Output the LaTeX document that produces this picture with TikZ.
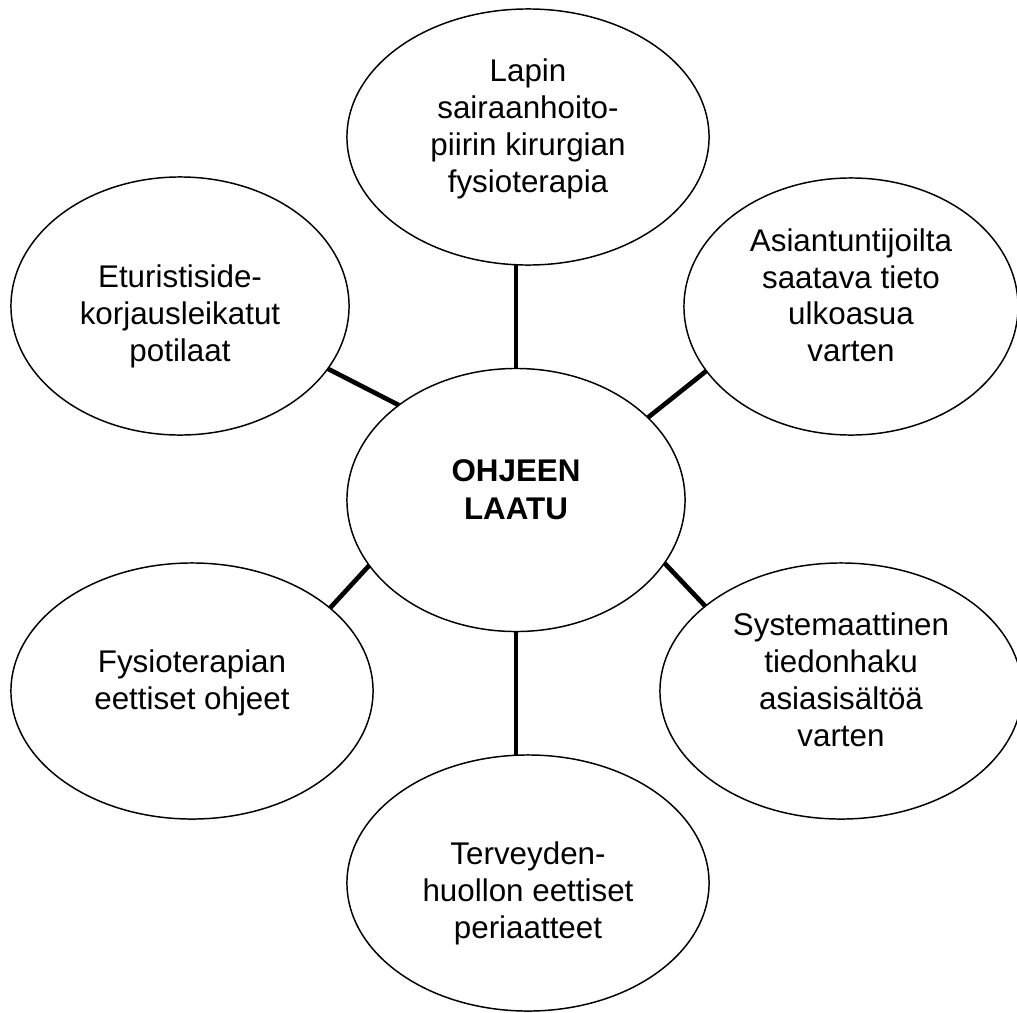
\documentclass[tikz,border=0pt]{standalone}
\usepackage{fontspec}
\setmainfont{Liberation Sans}
\usetikzlibrary{shapes.geometric}
% line strut: height 0.58cm, depth 0.335cm; last-line strut: equal height and depth
\newcommand\ls{\rule[-0.335cm]{0pt}{0.915cm}}
\newcommand\lz{\rule[-0.58cm]{0pt}{1.16cm}}
\begin{document}
\begin{tikzpicture}[x=0.025cm,y=-0.025cm,
  bubble/.style={ellipse,draw=black,line width=1.05pt,inner sep=0pt,outer sep=0pt,
    align=center,font=\fontsize{22.3}{0.92cm}\selectfont},
  link/.style={draw=black,line width=3.3pt}]
\fill[white] (0,0) rectangle (1017,1012);
\useasboundingbox (0,0) rectangle (1017,1012);

\node[bubble,minimum width=9.05cm,minimum height=6.4cm] (T) at (528,137)
  {\ls Lapin\\\ls sairaanhoito-\\\ls piirin kirurgian\\\lz fysioterapia};
\node[bubble,minimum width=8.45cm,minimum height=6.45cm] (LT) at (180,306)
  {\ls\\\ls Eturistiside-\\\ls korjausleikatut\\\lz potilaat};
\node[bubble,minimum width=8.35cm,minimum height=6.425cm] (RT) at (851,306.5)
  {\ls Asiantuntijoilta\\\ls saatava tieto\\\ls ulkoasua\\\lz varten};
\node[bubble,minimum width=8.45cm,minimum height=6.575cm,
  font=\fontsize{22.3}{0.95cm}\selectfont\bfseries] (C) at (516,500)
  {\ls OHJEEN\\\lz LAATU};
\node[bubble,minimum width=9.05cm,minimum height=6.4cm] (LB) at (192,691)
  {\ls Fysioterapian\\\lz eettiset ohjeet};
\node[bubble,minimum width=9.05cm,minimum height=6.4cm] (RB) at (841,691)
  {\ls Systemaattinen\\\ls tiedonhaku\\\ls asiasisältöä\\\lz varten};
\node[bubble,minimum width=9.05cm,minimum height=6.4cm] (B) at (528,883)
  {\ls\\\ls Terveyden-\\\ls huollon eettiset\\\lz periaatteet};

\draw[link] (C.north) -- (C.north |- T.south);
\draw[link] (C.south) -- (C.south |- B.north);
\draw[link] (LT.-23.5) -- (C.141.7);
\draw[link] (RT.-156.2) -- (C.32.2);
\draw[link] (LB.31.8) -- (C.-156.5);
\draw[link] (RB.148.2) -- (C.-23.0);
\end{tikzpicture}
\end{document}
